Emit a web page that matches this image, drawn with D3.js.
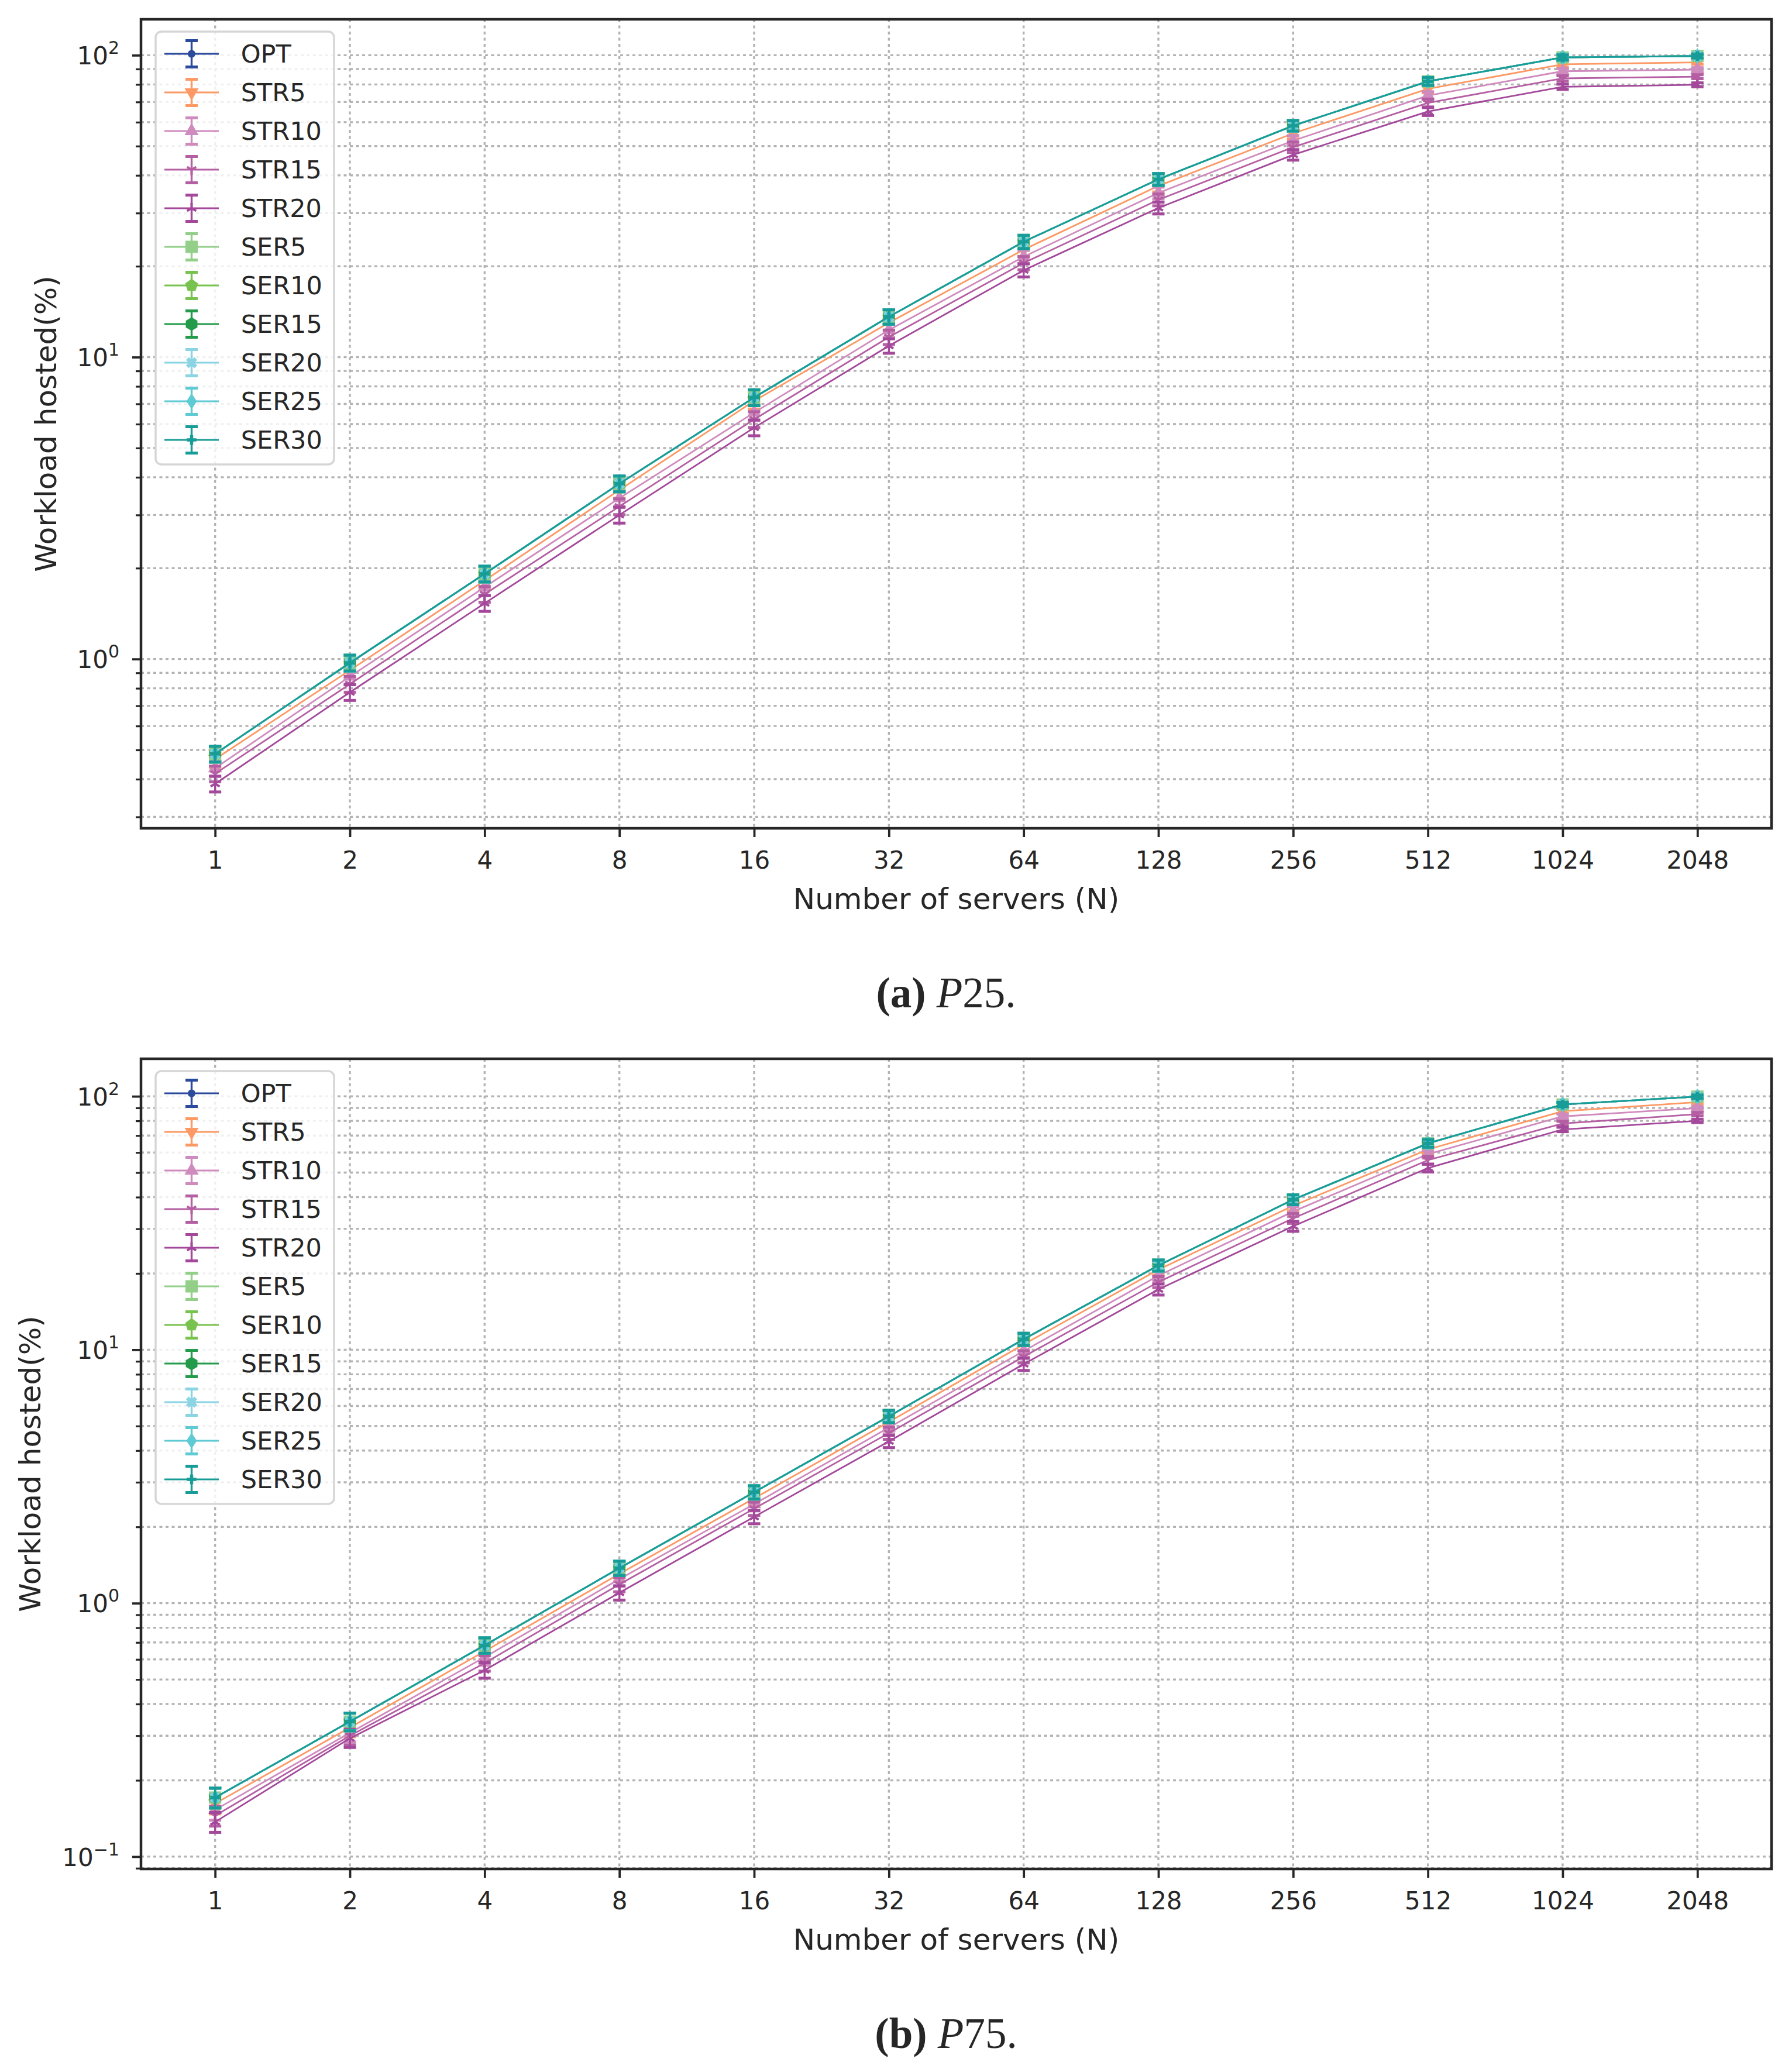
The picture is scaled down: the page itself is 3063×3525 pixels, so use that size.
<!DOCTYPE html>
<html>
<head>
<meta charset="utf-8">
<script src="https://cdn.jsdelivr.net/npm/d3@7"></script>
<style>
  body { margin: 0; background: #fff; }
</style>
</head>
<body>
<div id="chart"></div>
<script>
const W = 3063, H = 3525;

// x categories
const servers = ["1", "2", "4", "8", "16", "32", "64", "128", "256", "512", "1024", "2048"];

const seriesNames = ["OPT", "STR5", "STR10", "STR15", "STR20", "SER5", "SER10", "SER15", "SER20", "SER25", "SER30"];
const seriesColors = ["#2c4a9c", "#fc9964", "#cf8bbd", "#b55fa3", "#a3489a",
                      "#93cf89", "#78c24f", "#239b4b", "#8ad4e3", "#5ecad4", "#189c98"];
const seriesMarkers = ["circle", "triDown", "triUp", "tri1", "tri2",
                       "square", "pentagon", "hexagon", "x", "thinDiamond", "plus"];

// (a) P25 - workload hosted (%)
const p25Opt   = [0.485, 0.971, 1.915, 3.81, 7.35, 13.6, 24.1, 38.8, 58.4, 81.9, 98.3, 99.4];
const p25Str5  = [0.466, 0.918, 1.82, 3.63, 7.16, 13.0, 22.7, 36.9, 55.1, 77.4, 93.3, 94.7];
const p25Str10 = [0.435, 0.875, 1.73, 3.41, 6.55, 12.3, 21.5, 35.0, 52.1, 73.5, 88.5, 89.6];
const p25Str15 = [0.417, 0.826, 1.64, 3.20, 6.22, 11.65, 20.5, 33.2, 49.6, 69.5, 83.8, 84.9];
const p25Str20 = [0.386, 0.776, 1.53, 3.00, 5.84, 10.9, 19.4, 31.2, 46.8, 65.1, 78.6, 79.8];
// SER curves sit on top of OPT in the picture
const p25Ser   = [0.485, 0.971, 1.915, 3.81, 7.35, 13.6, 24.1, 38.8, 58.4, 81.9, 98.3, 99.4];
// relative half-height of the error bars
const p25Err   = [0.06, 0.06, 0.06, 0.06, 0.06, 0.055, 0.05, 0.045, 0.04, 0.03, 0.02, 0.015];

// (b) P75
const p75Opt   = [0.171, 0.341, 0.682, 1.375, 2.74, 5.46, 11.0, 21.5, 39.1, 65.2, 92.8, 99.7];
const p75Str5  = [0.162, 0.323, 0.646, 1.305, 2.59, 5.19, 10.5, 20.7, 37.0, 61.7, 87.3, 94.8];
const p75Str10 = [0.153, 0.308, 0.612, 1.245, 2.46, 4.93, 9.88, 19.6, 35.1, 59.1, 83.3, 89.8];
const p75Str15 = [0.145, 0.300, 0.580, 1.186, 2.36, 4.69, 9.39, 18.5, 33.0, 56.0, 78.1, 85.0];
const p75Str20 = [0.137, 0.293, 0.544, 1.10, 2.19, 4.35, 8.77, 17.3, 30.7, 52.1, 74.0, 80.0];
const p75Ser   = [0.171, 0.341, 0.682, 1.375, 2.74, 5.46, 11.0, 21.5, 39.1, 65.2, 92.8, 99.7];
const p75Err   = [0.09, 0.08, 0.07, 0.065, 0.06, 0.055, 0.055, 0.05, 0.045, 0.035, 0.02, 0.015];

const panels = [
  { letter: "(a)", name: "P25", top: 33, bottom: 1416, yDomain: [0.275, 131.5], ylabelX: 96,
    values: [p25Opt, p25Str5, p25Str10, p25Str15, p25Str20, p25Ser, p25Ser, p25Ser, p25Ser, p25Ser, p25Ser],
    err: p25Err },
  { letter: "(b)", name: "P75", top: 1810, bottom: 3195, yDomain: [0.0894, 140.6], ylabelX: 69,
    values: [p75Opt, p75Str5, p75Str10, p75Str15, p75Str20, p75Ser, p75Ser, p75Ser, p75Ser, p75Ser, p75Ser],
    err: p75Err }
];

const left = 241, right = 3028;
const ink = "#262626";
const gridColor = "#b3b3b3";

const svg = d3.select("#chart").append("svg")
  .attr("width", W)
  .attr("height", H)
  .style("font-family", "'DejaVu Sans', sans-serif");

svg.append("rect").attr("width", W).attr("height", H).attr("fill", "#fff");

const x = d3.scalePoint().domain(servers).range([left, right]).padding(0.55);

function polygon(n, r, rot) {
  const pts = d3.range(n).map(i => {
    const a = rot + i * 2 * Math.PI / n;
    return [r * Math.sin(a), -r * Math.cos(a)];
  });
  return "M" + pts.map(p => p[0].toFixed(2) + "," + p[1].toFixed(2)).join("L") + "Z";
}

// draws one marker centred on (0,0) inside g
function drawMarker(g, type, color) {
  if (type === "tri1" || type === "tri2") {
    const d = type === "tri1"
      ? "M0,0L0,9M0,0L-7.8,-4.5M0,0L7.8,-4.5"
      : "M0,0L0,-9M0,0L-7.8,4.5M0,0L7.8,4.5";
    g.append("path").attr("d", d).attr("stroke", color).attr("stroke-width", 4).attr("fill", "none");
    return;
  }
  let d, rot = 0;
  if (type === "circle") d = d3.symbol(d3.symbolCircle, 135)();
  else if (type === "triDown") { d = d3.symbol(d3.symbolTriangle, 250)(); rot = 180; }
  else if (type === "triUp") d = d3.symbol(d3.symbolTriangle, 250)();
  else if (type === "square") d = d3.symbol(d3.symbolSquare, 441)();
  else if (type === "pentagon") d = polygon(5, 11.5, 0);
  else if (type === "hexagon") d = polygon(6, 11.5, 0);
  else if (type === "x") { d = d3.symbol(d3.symbolCross, 230)(); rot = 45; }
  else if (type === "thinDiamond") d = "M0,-13.5L9,0L0,13.5L-9,0Z";
  else if (type === "plus") d = d3.symbol(d3.symbolCross, 150)();
  g.append("path").attr("d", d).attr("fill", color)
    .attr("transform", rot ? "rotate(" + rot + ")" : null);
}

function supLabel(sel, k) {
  sel.text("10");
  sel.append("tspan")
    .attr("dy", -18)
    .style("font-size", "30px")
    .text(k < 0 ? "\u2212" + (-k) : String(k));
}

panels.forEach(p => {
  const y = d3.scaleLog().domain(p.yDomain).range([p.bottom, p.top]);
  const g = svg.append("g");

  // log ticks
  const majors = [], minors = [];
  for (let k = -3; k <= 3; k++) {
    for (let m = 1; m <= 9; m++) {
      const v = m * Math.pow(10, k);
      if (v < p.yDomain[0] || v > p.yDomain[1]) continue;
      (m === 1 ? majors : minors).push(v);
    }
  }

  // grid
  const grid = g.append("g")
    .attr("stroke", gridColor)
    .attr("stroke-width", 3.4)
    .attr("stroke-dasharray", "5,5.5");
  grid.selectAll("line.v").data(servers).join("line")
    .attr("x1", d => x(d)).attr("x2", d => x(d))
    .attr("y1", p.top).attr("y2", p.bottom);
  grid.selectAll("line.h").data(majors.concat(minors)).join("line")
    .attr("x1", left).attr("x2", right)
    .attr("y1", d => y(d)).attr("y2", d => y(d));

  // series: line, error bars, markers
  p.values.forEach((vals, si) => {
    const color = seriesColors[si];
    const sg = g.append("g");
    const pts = servers.map((s, i) => ({ s: s, v: vals[i], e: p.err[i] }));

    sg.append("path")
      .datum(pts)
      .attr("fill", "none")
      .attr("stroke", color)
      .attr("stroke-width", 2.8)
      .attr("d", d3.line().x(d => x(d.s)).y(d => y(d.v)));

    const eb = sg.append("g").attr("stroke", color);
    eb.selectAll("line.bar").data(pts).join("line")
      .attr("stroke-width", 3.4)
      .attr("x1", d => x(d.s)).attr("x2", d => x(d.s))
      .attr("y1", d => y(d.v * (1 - d.e))).attr("y2", d => y(d.v * (1 + d.e)));
    eb.selectAll("line.lo").data(pts).join("line")
      .attr("stroke-width", 5)
      .attr("x1", d => x(d.s) - 10.5).attr("x2", d => x(d.s) + 10.5)
      .attr("y1", d => y(d.v * (1 - d.e))).attr("y2", d => y(d.v * (1 - d.e)));
    eb.selectAll("line.hi").data(pts, d => d.s + "h").enter().append("line")
      .attr("stroke-width", 5)
      .attr("x1", d => x(d.s) - 10.5).attr("x2", d => x(d.s) + 10.5)
      .attr("y1", d => y(d.v * (1 + d.e))).attr("y2", d => y(d.v * (1 + d.e)));

    pts.forEach(d => {
      const mg = sg.append("g").attr("transform", `translate(${x(d.s)},${y(d.v)})`);
      drawMarker(mg, seriesMarkers[si], color);
    });
  });

  // spines
  g.append("rect")
    .attr("x", left).attr("y", p.top)
    .attr("width", right - left).attr("height", p.bottom - p.top)
    .attr("fill", "none").attr("stroke", ink).attr("stroke-width", 4.5);

  // x axis
  const xAxis = g.append("g")
    .attr("transform", `translate(0,${p.bottom})`)
    .call(d3.axisBottom(x).tickSize(15).tickPadding(24));
  xAxis.select(".domain").remove();
  xAxis.selectAll(".tick line").attr("stroke", ink).attr("stroke-width", 3.8);
  xAxis.selectAll(".tick text")
    .attr("fill", ink).style("font-size", "42px").style("font-family", "'DejaVu Sans', sans-serif");

  // y axis: major with labels, minor without
  const yMajor = g.append("g")
    .attr("transform", `translate(${left},0)`)
    .call(d3.axisLeft(y).tickValues(majors).tickSize(15).tickPadding(22).tickFormat(() => ""));
  yMajor.select(".domain").remove();
  yMajor.selectAll(".tick line").attr("stroke", ink).attr("stroke-width", 3.8);
  yMajor.selectAll(".tick text")
    .attr("fill", ink).attr("dy", "0.36em")
    .style("font-size", "42px").style("font-family", "'DejaVu Sans', sans-serif")
    .each(function (d) { supLabel(d3.select(this), Math.round(Math.log10(d))); });

  const yMinor = g.append("g")
    .attr("transform", `translate(${left},0)`)
    .call(d3.axisLeft(y).tickValues(minors).tickSize(9).tickFormat(() => ""));
  yMinor.select(".domain").remove();
  yMinor.selectAll(".tick line").attr("stroke", ink).attr("stroke-width", 3.2);

  // axis labels
  g.append("text")
    .attr("x", (left + right) / 2).attr("y", p.bottom + 137.7)
    .attr("text-anchor", "middle").attr("fill", ink)
    .style("font-size", "50px")
    .text("Number of servers (N)");
  g.append("text")
    .attr("transform", `translate(${p.ylabelX},${(p.top + p.bottom) / 2}) rotate(-90)`)
    .attr("text-anchor", "middle").attr("fill", ink)
    .style("font-size", "50px")
    .text("Workload hosted(%)");

  // legend
  const lgTop = p.top + 21;
  const legend = g.append("g");
  legend.append("rect")
    .attr("x", 266).attr("y", lgTop)
    .attr("width", 305).attr("height", 740)
    .attr("rx", 10)
    .attr("fill", "#fff").attr("fill-opacity", 0.8)
    .attr("stroke", "#d6d6d6").attr("stroke-width", 3.5);

  seriesNames.forEach((name, si) => {
    const color = seriesColors[si];
    const ry = lgTop + 38 + si * 66;
    const row = legend.append("g").attr("transform", `translate(0,${ry})`);
    row.append("line").attr("x1", 281).attr("x2", 374).attr("y1", 0).attr("y2", 0)
      .attr("stroke", color).attr("stroke-width", 2.8);
    row.append("line").attr("x1", 327.5).attr("x2", 327.5).attr("y1", -22.5).attr("y2", 22.5)
      .attr("stroke", color).attr("stroke-width", 3.4);
    [-22.5, 22.5].forEach(cy => {
      row.append("line").attr("x1", 317).attr("x2", 338).attr("y1", cy).attr("y2", cy)
        .attr("stroke", color).attr("stroke-width", 5);
    });
    drawMarker(row.append("g").attr("transform", "translate(327.5,0)"), seriesMarkers[si], color);
    row.append("text")
      .attr("x", 411.7).attr("y", 0).attr("dy", "0.36em")
      .attr("fill", ink).style("font-size", "43px")
      .text(name);
  });

  // caption
  const cap = svg.append("text")
    .attr("x", 1617).attr("y", p.bottom + 306)
    .attr("text-anchor", "middle").attr("fill", ink)
    .style("font-family", "'Liberation Serif', 'DejaVu Serif', serif")
    .style("font-size", "73px");
  cap.append("tspan").style("font-weight", "bold").text(p.letter);
  cap.append("tspan").text(" ");
  cap.append("tspan").style("font-style", "italic").text("P");
  cap.append("tspan").text(p.name.slice(1) + ".");
});
</script>
</body>
</html>
